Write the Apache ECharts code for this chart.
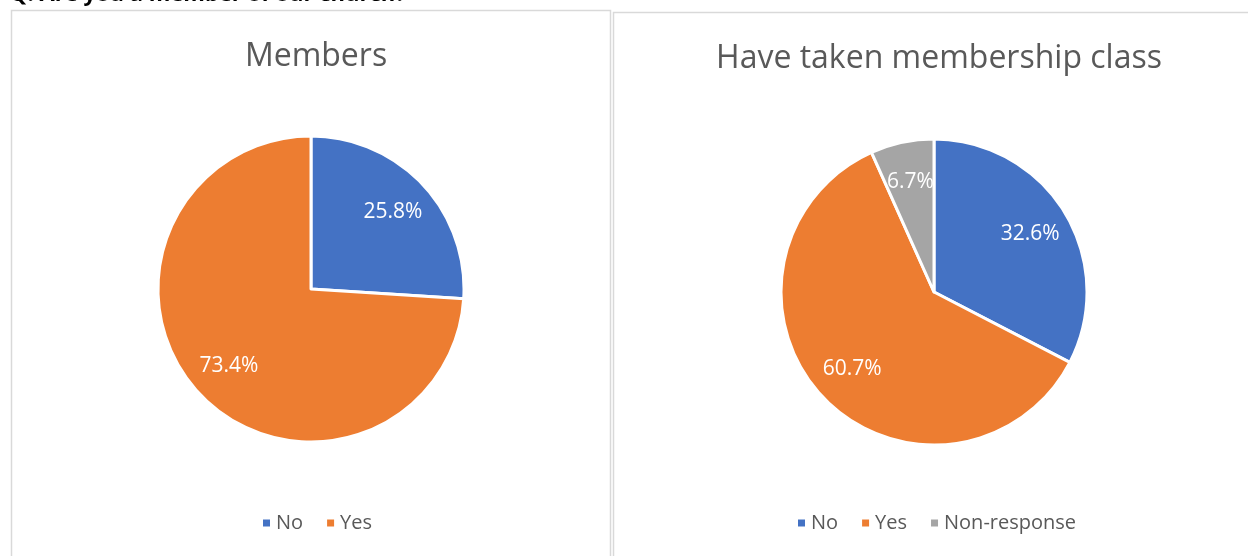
<!DOCTYPE html>
<html>
<head>
<meta charset="utf-8">
<script src="https://cdn.jsdelivr.net/npm/echarts@6/dist/echarts.min.js"></script>
<style>
    html, body { margin: 0; padding: 0; background: #fff; }
    #chart { width: 1248px; height: 556px; }
</style>
</head>
<body>
<div id="chart"></div>
<script>
// Данные двух круговых диаграмм
const membersNames = ['No', 'Yes'];
const membersValues = [25.8, 73.4];

const classNames = ['No', 'Yes', 'Non-response'];
const classValues = [32.6, 60.7, 6.7];

const sliceColors = ['#4472C4', '#ED7D31', '#A5A5A5'];

const questionText = 'Q: Are you a member of our church?';
const leftTitle = 'Members';
const rightTitle = 'Have taken membership class';

const fontFamily = '"Open Sans", "Noto Sans", sans-serif';
const textGrey = '#595959';

const chartEl = document.getElementById('chart');
const chart = echarts.init(chartEl, null, { renderer: 'canvas' });

function toData(names, values) {
    return names.map(function (name, i) {
        return { name: name, value: values[i], itemStyle: { color: sliceColors[i] } };
    });
}

// Основной круг без подписей
function pieSeries(center, names, values) {
    return {
        type: 'pie',
        center: center,
        radius: [0, 153],
        startAngle: 90,
        clockwise: true,
        silent: true,
        label: { show: false },
        labelLine: { show: false },
        itemStyle: { borderColor: '#fff', borderWidth: 3 },
        data: toData(names, values)
    };
}

// Прозрачное кольцо только для подписей (сдвигает их ближе к краю, как в Excel)
function labelSeries(center, names, values) {
    return {
        type: 'pie',
        center: center,
        radius: [66, 153],
        startAngle: 90,
        clockwise: true,
        silent: true,
        itemStyle: { color: 'rgba(0,0,0,0)', borderWidth: 0 },
        label: {
            show: true,
            position: 'inside',
            color: '#fff',
            fontSize: 21,
            fontFamily: fontFamily,
            formatter: function (p) {
                return p.value.toFixed(1) + '%';
            }
        },
        labelLine: { show: false },
        data: names.map(function (name, i) {
            return { name: name, value: values[i] };
        })
    };
}

const legendText = { color: textGrey, fontSize: 20, fontFamily: fontFamily };

const option = {
    backgroundColor: '#fff',
    animation: false,
    color: sliceColors,
    title: [
        {
            text: leftTitle,
            left: 311,
            top: 36,
            textAlign: 'center',
            textStyle: { color: textGrey, fontSize: 32, fontWeight: 'normal', fontFamily: fontFamily }
        },
        {
            text: rightTitle,
            left: 934,
            top: 38,
            textAlign: 'center',
            textStyle: { color: textGrey, fontSize: 32, fontWeight: 'normal', fontFamily: fontFamily }
        }
    ],
    legend: [
        {
            data: membersNames,
            left: 256,
            top: 508,
            icon: 'rect',
            itemWidth: 9,
            itemHeight: 9,
            itemGap: 22,
            textStyle: legendText
        },
        {
            data: classNames,
            left: 791,
            top: 508,
            icon: 'rect',
            itemWidth: 9,
            itemHeight: 9,
            itemGap: 22,
            textStyle: legendText
        }
    ],
    graphic: [
        {
            type: 'rect',
            silent: true,
            shape: { x: 11.5, y: 10.5, width: 599, height: 700 },
            style: { fill: 'none', stroke: '#d9d9d9', lineWidth: 1.5 }
        },
        {
            type: 'rect',
            silent: true,
            shape: { x: 613.5, y: 12.5, width: 700, height: 700 },
            style: { fill: 'none', stroke: '#d9d9d9', lineWidth: 1.5 }
        },
        {
            type: 'text',
            silent: true,
            left: 10,
            top: -16,
            style: {
                text: questionText,
                fill: '#000',
                font: 'bold 22px ' + fontFamily
            }
        }
    ],
    series: [
        pieSeries([311, 289], membersNames, membersValues),
        labelSeries([311, 289], membersNames, membersValues),
        pieSeries([934, 292], classNames, classValues),
        labelSeries([934, 292], classNames, classValues)
    ]
};

chart.setOption(option);
</script>
</body>
</html>
